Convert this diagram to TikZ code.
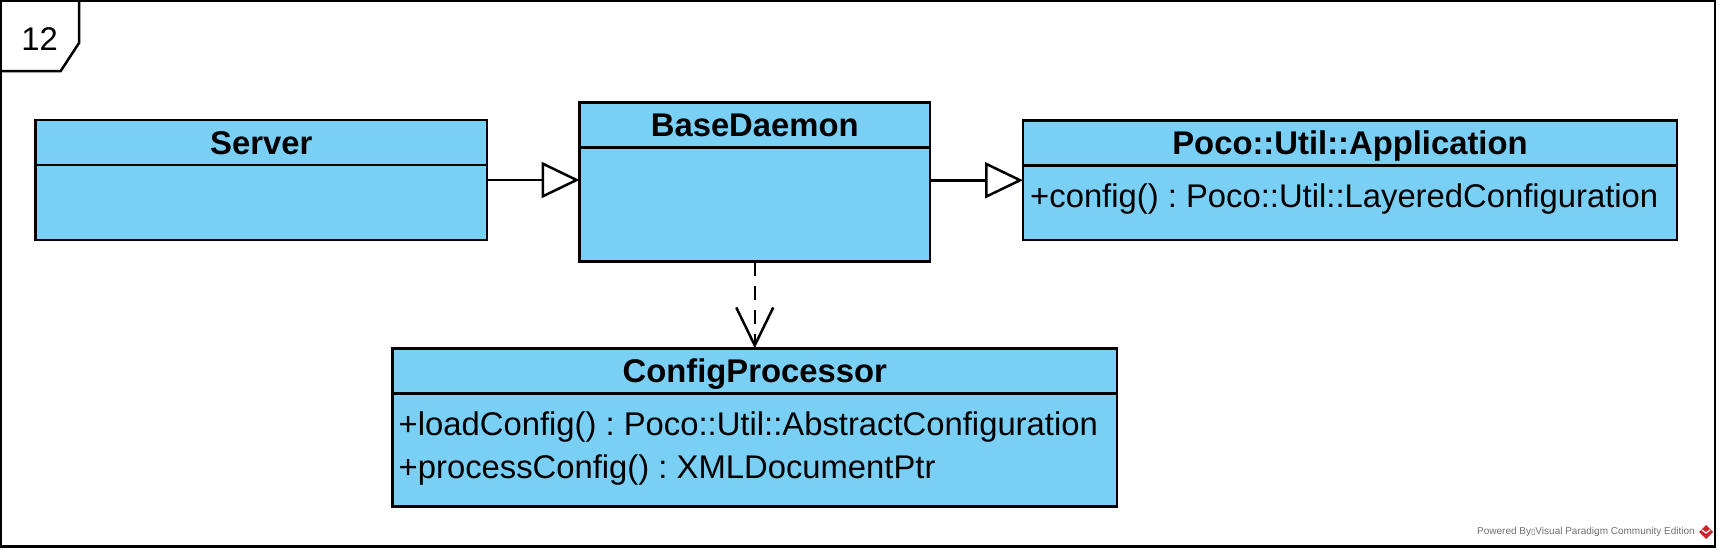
\documentclass[tikz,border=0pt]{standalone}
\usepackage{fontspec}
\setmainfont{Liberation Sans}
\newfontfamily\symfont{DejaVu Sans}
\usepackage{tikz}
\usetikzlibrary{positioning}
\usetikzlibrary{arrows.meta,calc}
\frenchspacing
\definecolor{classblue}{RGB}{122,207,245}
\definecolor{vpgray}{RGB}{110,110,110}
\definecolor{vpred}{RGB}{204,34,41}
\tikzstyle{classbox}=[rectangle,draw=black,fill=classblue,line width=2.7pt,anchor=north west,inner sep=0pt,outer sep=0pt]
\tikzstyle{classhead}=[rectangle,draw=black,line width=2.7pt,anchor=north,inner sep=0pt,outer sep=0pt,minimum height=45pt,text height=23.5pt,text depth=0pt,font=\fontsize{32.8}{40}\selectfont\bfseries]
\tikzstyle{member}=[anchor=base west,inner sep=0pt,font=\fontsize{32.8}{40}\selectfont]
\tikzstyle{gen}=[line width=2.5pt,-{Triangle[open,length=38pt,width=36pt]}]
\tikzstyle{dep}=[line width=2.5pt,dash pattern=on 14pt off 10pt,-{Straight Barb[length=38pt,width=37pt]}]
\begin{document}
\begin{tikzpicture}[x=1pt,y=-1pt]

  \useasboundingbox (0,0) rectangle (1719,549);

  % diagram frame
  \draw[line width=2.5pt] (1,1) rectangle (1715,546.5);
  \draw[line width=2.5pt] (1,71) -- (60.7,71) -- (79,43) -- (79,1);
  \node[anchor=base,inner sep=0pt,font=\fontsize{32.8}{40}\selectfont] (framenum) at (39.7,50.7) {12};

  % classes
  \foreach \x/\y/\w/\h/\name/\label in {35.5/120/451.5/120/server/Server,
        579.5/102.5/350.5/159/daemon/BaseDaemon,
        1023/120.5/654/119.5/app/Poco::Util::Application,
        392.5/348.3/724.5/158.5/proc/ConfigProcessor}
  {
    \node[classbox,minimum width=\w pt,minimum height=\h pt] (\name) at (\x,\y) {};
    \node[classhead,minimum width=\w pt] (\name-head) at (\name.north) {\label};
  }

  \node[member] (appconfig) at ($(app.north west)+(7,87)$) {+config() : Poco::Util::LayeredConfiguration};
  \node[member] (procload) at ($(proc.north west)+(6,87)$) {+loadConfig() : Poco::Util::AbstractConfiguration};
  \node[member] (procprocess) at ($(procload.base west)+(0,43)$) {+processConfig() : XMLDocumentPtr};

  % relations
  \draw[gen] (server.east) -- (server.east -| daemon.west);
  \draw[gen] (app.west -| daemon.east) -- (app.west);
  \draw[dep] (daemon.south) -- (daemon.south |- proc.north);

  % watermark
  \node[anchor=east,inner sep=0pt,text=vpgray,font=\fontsize{10}{12}\selectfont] (credit) at (1695,532)
    {Powered By{\symfont\fontsize{8}{10}\selectfont ▯}Visual Paradigm Community Edition};
  \fill[vpred] (1706,525) -- (1713,532) -- (1706,539) -- (1699,532) -- cycle;
  \draw[white,line width=1.2pt] (1702,530) -- (1706,533) -- (1710,530);

\end{tikzpicture}
\end{document}
